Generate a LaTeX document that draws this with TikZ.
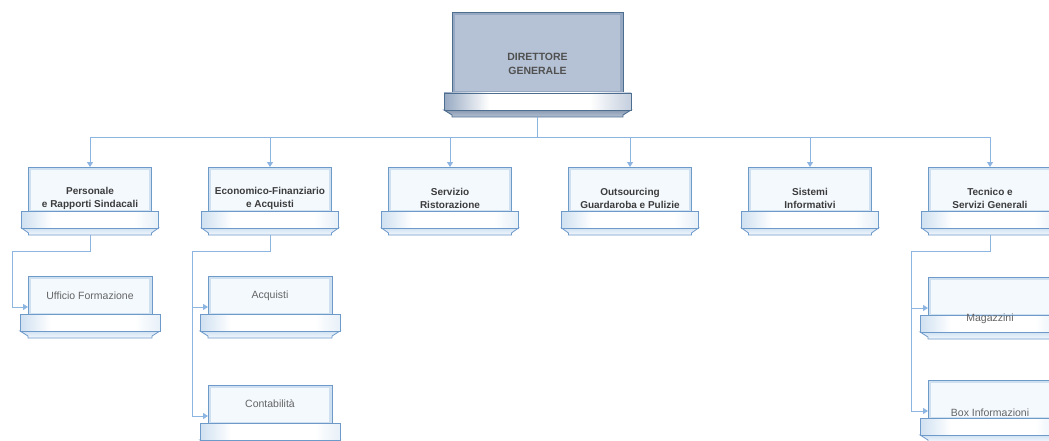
\documentclass[tikz,border=0pt]{standalone}
\usepackage{fontspec}
\setmainfont{Liberation Sans}
\usetikzlibrary{arrows.meta,calc}
\definecolor{connc}{HTML}{8DB5E2}
\definecolor{ltfill}{HTML}{F4F9FE}
\definecolor{ltglowc}{HTML}{CFE0F1}
\definecolor{ltline}{HTML}{6E9ACA}
\definecolor{dkfill}{HTML}{B5C2D5}
\definecolor{dkglowc}{HTML}{97A9C2}
\definecolor{dkline}{HTML}{4E6E8F}
\definecolor{txtone}{HTML}{3C3C3C}
\definecolor{txttwo}{HTML}{646464}
\definecolor{txttop}{HTML}{505050}
\pgfdeclarehorizontalshading{ltbandsh}{100bp}{color(0bp)=(ltglowc); color(25bp)=(ltglowc); color(36bp)=(white); color(66bp)=(white); color(75bp)=(ltglowc!50); color(100bp)=(ltglowc!50)}
\pgfdeclarehorizontalshading{dkbandsh}{100bp}{color(0bp)=(dkglowc); color(25bp)=(dkglowc); color(37bp)=(white); color(64bp)=(white); color(75bp)=(dkfill!80); color(100bp)=(dkfill!80)}
\tikzset{
  ltbody/.style={fill=ltfill},
  ltglow/.style={draw=ltglowc,line width=2.5pt},
  ltborder/.style={draw=ltline,line width=0.8pt},
  ltband/.style={shading=ltbandsh,draw=ltline,line width=0.8pt},
  ltlower/.style={top color=ltglowc,bottom color=ltfill,draw=ltline,line width=0.8pt},
  dkbody/.style={fill=dkfill},
  dkglow/.style={draw=dkglowc,line width=3pt},
  dkborder/.style={draw=dkline,line width=0.9pt},
  dkband/.style={shading=dkbandsh,draw=dkline,line width=0.9pt},
  dklower/.style={top color=dkglowc!90!black,bottom color=dkfill,draw=dkline,line width=0.9pt},
  boxarea/.style={inner sep=0pt,outer sep=0pt},
  conn/.style={draw=connc,line width=1pt},
  arr/.style={conn,-{Triangle[width=6pt,length=5pt]}},
  lvone/.style={font=\bfseries\fontsize{10}{13}\selectfont,text=txtone,align=center,inner sep=0pt},
  lvtwo/.style={font=\fontsize{10.5}{13}\selectfont,text=txttwo,align=center,inner sep=0pt},
  lvtop/.style={font=\bfseries\fontsize{10.5}{14}\selectfont,text=txttop,align=center,inner sep=0pt},
}
% #1 name, #2 cx, #3 top, #4 half width, #5 band offset, #6 band overhang, #7 theme
\newcommand{\orgbox}[7]{%
  \begin{scope}[shift={(#2,#3)}]
    \fill[#7body] (-#4,0) rectangle (#4,#5+17);
    \draw[#7glow] (-#4+1.6,1.6) rectangle (#4-1.6,#5);
    \draw[#7lower] (-#4-#6,#5+17) -- (-#4,#5+22) -- (-#4,#5+24) -- (#4,#5+24) -- (#4,#5+22) -- (#4+#6,#5+17) -- cycle;
    \draw[#7border] (-#4,#5+17) -- (-#4,0) -- (#4,0) -- (#4,#5+17);
    \draw[#7band] (-#4-#6,#5) rectangle (#4+#6,#5+17);
  \end{scope}
  \node[boxarea,minimum width=2*#4,minimum height=#5+24] (#1) at (#2,#3+#5/2+12) {};
}
\begin{document}
\begin{tikzpicture}[x=1pt,y=-1pt]
\clip (0,0) rectangle (1049,441);
\fill[white] (0,0) rectangle (1049,441);

% top
\orgbox{dg}{537.5}{12}{85.5}{81}{8}{dk}
\node[lvtop] (tdg) at (537.5,64) {DIRETTORE\\GENERALE};

% level one
\orgbox{pe}{90}{167}{61.5}{44}{7}{lt}
\orgbox{ef}{270}{167}{61.5}{44}{7}{lt}
\orgbox{sr}{450}{167}{61.5}{44}{7}{lt}
\orgbox{og}{630}{167}{61.5}{44}{7}{lt}
\orgbox{si}{810}{167}{61.5}{44}{7}{lt}
\orgbox{ts}{990}{167}{61.5}{44}{7}{lt}
\node[lvone] (tpe) at (90,198.5) {Personale\\e Rapporti Sindacali};
\node[lvone] (tef) at (270,198.5) {Economico-Finanziario\\e Acquisti};
\node[lvone] (tsr) at (450,198.5) {Servizio\\Ristorazione};
\node[lvone] (tog) at (630,198.5) {Outsourcing\\Guardaroba e Pulizie};
\node[lvone] (tsi) at (810,198.5) {Sistemi\\Informativi};
\node[lvone] (tts) at (990,198.5) {Tecnico e\\Servizi Generali};

% level two
\orgbox{uf}{90}{276}{62}{38}{8}{lt}
\orgbox{ac}{270}{276}{62}{38}{8}{lt}
\orgbox{co}{270}{385}{62}{38}{8}{lt}
\orgbox{ma}{990}{277}{62}{38}{8}{lt}
\orgbox{bi}{990}{380}{62}{38}{8}{lt}
\node[lvtwo] (tuf) at (90,295.5) {Ufficio Formazione};
\node[lvtwo] (tac) at (270,296) {Acquisti};
\node[lvtwo] (tco) at (270,403.5) {Contabilità};
\node[lvtwo] (tma) at (990,319) {Magazzini};
\node[lvtwo] (tbi) at (990,413) {Box Informazioni};

% connectors
\coordinate (bus) at (537.5,138);
\draw[conn] (dg.south) -- (bus);
\foreach \n in {pe,ef,sr,og,si,ts}{\draw[arr] (bus) -| (\n.north);}

\coordinate (jpe) at (12,251);
\draw[conn] (pe.south) |- (jpe);
\draw[arr] (jpe) |- (uf.west);

\coordinate (jef) at (192,251);
\draw[conn] (ef.south) |- (jef);
\draw[arr] (jef) |- (ac.west);
\draw[arr] (jef) |- (co.west);

\coordinate (jts) at (911,251);
\draw[conn] (ts.south) |- (jts);
\draw[arr] (jts) |- (ma.west);
\draw[arr] (jts) |- (bi.west);
\end{tikzpicture}
\end{document}
